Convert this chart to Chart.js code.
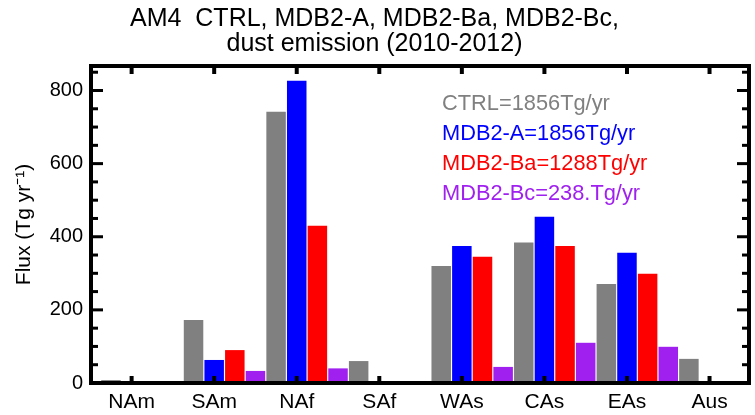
<!DOCTYPE html>
<html>
<head>
<meta charset="utf-8">
<script src="https://cdn.jsdelivr.net/npm/chart.js@4.4.1/dist/chart.umd.min.js"></script>
<style>
  html, body { margin: 0; padding: 0; background: #fff; }
  #wrap { position: relative; width: 755px; height: 415px; }
</style>
</head>
<body>
<div id="wrap"><canvas id="dustChart"></canvas></div>
<script>
// Regiones
const regions = ["NAm", "SAm", "NAf", "SAf", "WAs", "CAs", "EAs", "Aus"];

// Emisión de polvo por región (Tg/yr)
const ctrlFlux = [8, 172, 742, 60, 320, 384, 271, 66];
const mdbAFlux = [1, 63, 827, 0.3, 375, 455, 356, 0.3];
const mdbBaFlux = [4, 90, 430, 2, 345, 375, 299, 1.5];
const mdbBcFlux = [1, 33, 40, 0.5, 44, 110, 99, 1.5];

// Series: nombres, totales de la leyenda y colores
const seriesNames = ["CTRL", "MDB2-A", "MDB2-Ba", "MDB2-Bc"];
const seriesTotals = ["1856", "1856", "1288", "238."];
const seriesColors = ["#808080", "#0000ff", "#ff0000", "#a020f0"];

// Ticks del eje Y
const yTicks = [0, 200, 400, 600, 800];

const FONT = "'Liberation Sans', Arial, Helvetica, sans-serif";
const allSeries = [ctrlFlux, mdbAFlux, mdbBaFlux, mdbBcFlux];

// El grupo de barras queda corrido: la etiqueta cae sobre la barra azul
const groupShift = 0.125;

// Marco negro con ticks hacia adentro (estilo IDL)
const frameAndTicks = {
  id: "frameAndTicks",
  afterDatasetsDraw(chart) {
    const { ctx, chartArea: a, scales: { x, y } } = chart;
    const seg = (x1, y1, x2, y2) => { ctx.beginPath(); ctx.moveTo(x1, y1); ctx.lineTo(x2, y2); ctx.stroke(); };
    ctx.save();
    ctx.strokeStyle = "#000";
    ctx.lineWidth = 3;
    for (let v = 0; v <= y.max; v += 50) {
      const py = y.getPixelForValue(v);
      const len = v % 200 === 0 ? 12 : 7;
      seg(a.left, py, a.left + len, py);
      seg(a.right, py, a.right - len, py);
    }
    ctx.lineWidth = 4;
    x.ticks.forEach(t => {
      const px = x.getPixelForValue(t.value);
      seg(px, a.top, px, a.top + 8);
      seg(px, a.bottom, px, a.bottom - 7);
    });
    ctx.lineWidth = 4;
    ctx.strokeRect(a.left, a.top, a.right - a.left, a.bottom - a.top);
    ctx.restore();
  }
};

// Leyenda como texto coloreado dentro del gráfico
const textLegend = {
  id: "textLegend",
  afterDraw(chart) {
    const { ctx, chartArea: a } = chart;
    ctx.save();
    ctx.font = "21.8px " + FONT;
    ctx.textBaseline = "middle";
    ctx.textAlign = "left";
    seriesNames.forEach((name, i) => {
      ctx.fillStyle = seriesColors[i];
      ctx.fillText(name + "=" + seriesTotals[i] + "Tg/yr", a.left + 351, a.top + 38 + i * 30);
    });
    ctx.restore();
  }
};

const ctx = document.getElementById("dustChart").getContext("2d");
const dustChart = new Chart(ctx, {
  type: "bar",
  data: {
    datasets: allSeries.map((vals, i) => ({
      label: seriesNames[i],
      data: vals.map((v, k) => ({ x: k + groupShift, y: v })),
      backgroundColor: seriesColors[i],
      borderWidth: 0,
      categoryPercentage: 1.0,
      barPercentage: 0.945
    }))
  },
  options: {
    responsive: true,
    maintainAspectRatio: false,
    animation: false,
    layout: { padding: { left: 0, right: 6, top: 0, bottom: 0 } },
    plugins: {
      legend: { display: false },
      tooltip: { enabled: false },
      title: {
        display: true,
        text: ["AM4  CTRL, MDB2-A, MDB2-Ba, MDB2-Bc,", "dust emission (2010-2012)"],
        color: "#000",
        font: { family: FONT, size: 25, weight: "normal", lineHeight: 1.0 },
        padding: { top: 7, bottom: 9 }
      }
    },
    scales: {
      x: {
        type: "linear",
        offset: false,
        min: -0.492,
        max: 7.478,
        grid: { display: false, drawTicks: false },
        border: { display: false },
        afterBuildTicks: s => { s.ticks = regions.map((_, k) => ({ value: k })); },
        afterFit: s => { s.height = 32; },
        ticks: {
          color: "#000",
          font: { family: FONT, size: 21 },
          padding: 7,
          maxRotation: 0,
          callback: v => regions[v]
        }
      },
      y: {
        min: 0,
        max: 867,
        grid: { display: false, drawTicks: false },
        border: { display: false },
        afterBuildTicks: s => { s.ticks = yTicks.map(v => ({ value: v })); },
        afterFit: s => { s.width = 91; },
        ticks: {
          color: "#000",
          font: { family: FONT, size: 20 },
          padding: 8
        },
        title: {
          display: true,
          text: "Flux (Tg yr\u207B\u00B9)",
          color: "#000",
          font: { family: FONT, size: 21 },
          padding: { top: 12, bottom: 0 }
        }
      }
    }
  },
  plugins: [frameAndTicks, textLegend]
});
</script>
</body>
</html>
